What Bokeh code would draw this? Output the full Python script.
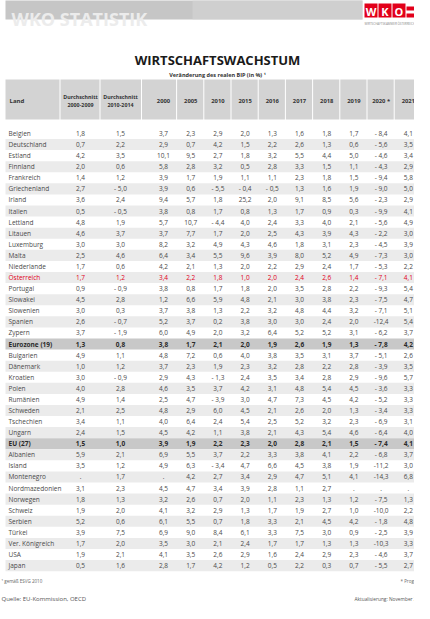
from bokeh.plotting import figure
from bokeh.models import ColumnDataSource, Range1d
from bokeh.embed import file_html
from bokeh.resources import INLINE
from bokeh.core.properties import value

# ---------------- data ----------------
countries = ["Belgien", "Deutschland", "Estland", "Finnland", "Frankreich", "Griechenland",
             "Irland", "Italien", "Lettland", "Litauen", "Luxemburg", "Malta", "Niederlande",
             "Österreich", "Portugal", "Slowakei", "Slowenien", "Spanien", "Zypern",
             "Eurozone (19)", "Bulgarien", "Dänemark", "Kroatien", "Polen", "Rumänien",
             "Schweden", "Tschechien", "Ungarn", "EU (27)", "Albanien", "Island",
             "Montenegro", "Nordmazedonien", "Norwegen", "Schweiz", "Serbien", "Türkei",
             "Ver. Königreich", "USA", "Japan"]

avg_2000_2009 = [1.8, 0.7, 4.2, 2.0, 1.4, 2.7, 3.6, 0.5, 4.8, 4.6, 3.0, 2.5, 1.7, 1.7, 0.9, 4.5, 3.0, 2.6, 3.7,
                 1.3, 4.9, 1.0, 3.0, 4.0, 4.9, 2.1, 3.4, 2.4, 1.5, 5.9, 3.5, None, 3.1, 1.8, 1.9, 5.2, 3.9, 1.7, 1.9, 0.5]
avg_2010_2014 = [1.5, 2.2, 3.5, 0.6, 1.2, -5.0, 2.4, -0.5, 1.9, 3.7, 3.0, 4.6, 0.6, 1.2, -0.9, 2.8, 0.3, -0.7, -1.9,
                 0.8, 1.1, 1.2, -0.9, 2.8, 1.4, 2.5, 1.1, 1.5, 1.0, 2.1, 1.2, 1.7, 2.3, 1.3, 2.0, 0.6, 7.5, 2.0, 2.1, 1.6]
y2000 = [3.7, 2.9, 10.1, 5.8, 3.9, 3.9, 9.4, 3.8, 5.7, 3.7, 8.2, 6.4, 4.2, 3.4, 3.8, 1.2, 3.7, 5.2, 6.0,
         3.8, 4.8, 3.7, 2.9, 4.6, 2.5, 4.8, 4.0, 4.5, 3.9, 6.9, 4.9, None, 4.5, 3.2, 4.1, 6.1, 6.9, 3.5, 4.1, 2.8]
y2005 = [2.3, 0.7, 9.5, 2.8, 1.7, 0.6, 5.7, 0.8, 10.7, 7.7, 3.2, 3.4, 2.1, 2.2, 0.8, 6.6, 3.8, 3.7, 4.9,
         1.7, 7.2, 2.3, 4.3, 3.5, 4.7, 2.9, 6.4, 4.2, 1.9, 5.5, 6.3, 4.2, 4.7, 2.6, 3.2, 5.5, 9.0, 3.0, 3.5, 1.7]
y2010 = [2.9, 4.2, 2.7, 3.2, 1.9, -5.5, 1.8, 1.7, -4.4, 1.7, 4.9, 5.5, 1.3, 1.8, 1.7, 5.9, 1.3, 0.2, 2.0,
         2.1, 0.6, 1.9, -1.3, 3.7, -3.9, 6.0, 2.4, 1.1, 2.2, 3.7, -3.4, 2.7, 3.4, 0.7, 2.9, 0.7, 8.4, 2.1, 2.6, 4.2]
y2015 = [2.0, 1.5, 1.8, 0.5, 1.1, -0.4, 25.2, 0.8, 4.0, 2.0, 4.3, 9.6, 2.0, 1.0, 1.8, 4.8, 2.2, 3.8, 3.2,
         2.0, 4.0, 2.3, 2.4, 4.2, 3.0, 4.5, 5.4, 3.8, 2.3, 2.2, 4.7, 3.4, 3.9, 2.0, 1.3, 1.8, 6.1, 2.4, 2.9, 1.2]
y2016 = [1.3, 2.2, 3.2, 2.8, 1.1, -0.5, 2.0, 1.3, 2.4, 2.5, 4.6, 3.9, 2.2, 2.0, 2.0, 2.1, 3.2, 3.0, 6.4,
         1.9, 3.8, 3.2, 3.5, 3.1, 4.7, 2.1, 2.5, 2.1, 2.0, 3.3, 6.6, 2.9, 2.8, 1.1, 1.7, 3.3, 3.3, 1.7, 1.6, 0.5]
y2017 = [1.6, 2.6, 5.5, 3.3, 2.3, 1.3, 9.1, 1.7, 3.3, 4.3, 1.8, 8.0, 2.9, 2.4, 3.5, 3.0, 4.8, 3.0, 5.2,
         2.6, 3.5, 2.8, 3.4, 4.8, 7.3, 2.6, 5.2, 4.3, 2.8, 3.8, 4.5, 4.7, 1.1, 2.3, 1.9, 2.1, 7.5, 1.7, 2.4, 2.2]
y2018 = [1.8, 1.3, 4.4, 1.5, 1.8, 1.6, 8.5, 0.9, 4.0, 3.9, 3.1, 5.2, 2.4, 2.6, 2.8, 3.8, 4.4, 2.4, 5.2,
         1.9, 3.1, 2.2, 2.8, 5.4, 4.5, 2.0, 3.2, 5.4, 2.1, 4.1, 3.8, 5.1, 2.7, 1.3, 2.7, 4.5, 3.0, 1.3, 2.9, 0.3]
y2019 = [1.7, 0.6, 5.0, 1.1, 1.5, 1.9, 5.6, 0.3, 2.1, 4.3, 2.3, 4.9, 1.7, 1.4, 2.2, 2.3, 3.2, 2.0, 3.1,
         1.3, 3.7, 2.8, 2.9, 4.5, 4.2, 1.3, 2.3, 4.6, 1.5, 2.2, 1.9, 4.1, None, 1.2, 1.0, 4.2, 0.9, 1.3, 2.3, 0.7]
y2020 = [-8.4, -5.6, -4.6, -4.3, -9.4, -9.0, -2.3, -9.9, -5.6, -2.2, -4.5, -7.3, -5.3, -7.1, -9.3, -7.5, -7.1, -12.4, -6.2,
         -7.8, -5.1, -3.9, -9.6, -3.6, -5.2, -3.4, -6.9, -6.4, -7.4, -6.8, -11.2, -14.3, None, -7.5, -10.0, -1.8, -2.5, -10.3, -4.6, -5.5]
y2021 = [4.1, 3.5, 3.4, 2.9, 5.8, 5.0, 2.9, 4.1, 4.9, 3.0, 3.9, 3.0, 2.2, 4.1, 5.4, 4.7, 5.1, 5.4, 3.7,
         4.2, 2.6, 3.5, 5.7, 3.3, 3.3, 3.3, 3.1, 4.0, 4.1, 3.7, 3.0, 6.8, None, 1.3, 2.2, 4.8, 3.9, 3.3, 3.7, 2.7]

series = [avg_2000_2009, avg_2010_2014, y2000, y2005, y2010, y2015, y2016,
          y2017, y2018, y2019, y2020, y2021]
year_labels = ["2000", "2005", "2010", "2015", "2016", "2017", "2018", "2019", "2020 *", "2021"]
avg_labels = [("Durchschnitt", "2000-2009"), ("Durchschnitt", "2010-2014")]
aggregate_rows = ["Eurozone (19)", "EU (27)"]
highlight_row = "Österreich"

title = "WIRTSCHAFTSWACHSTUM"
subtitle = "Veränderung des realen BIP (in %) \u00b9"
footnote = "\u00b9 gemäß ESVG 2010"
forecast_note = "* Prognose"
source_note = "Quelle: EU-Kommission, OECD"
update_note = "Aktualisierung: November 2020"

# ---------------- layout ----------------
FONT = value("Open Sans")
col_x = [88, 128] + [171 + 27.2 * i for i in range(10)]
row_y0, row_h = 141.0, 11.08
bounds = [13, 68] + [(col_x[i] + col_x[i + 1]) / 2 for i in range(len(col_x) - 1)] + [440]

p = figure(width=414, height=603, x_range=Range1d(8, 422), y_range=Range1d(611, 8),
           output_backend="svg", toolbar_location=None, min_border=0)
p.axis.visible = False
p.grid.visible = False
p.outline_line_color = None
p.background_fill_color = "white"
p.border_fill_color = "white"

# banner
p.quad(left=[13], right=[370], top=[7], bottom=[27], fill_color="#c6c6c6", line_color=None)
p.quad(left=[200], right=[370], top=[7], bottom=[27], fill_color="#d6d6d6", line_color=None, fill_alpha=0.6)
p.text(x=[19], y=[26], text=["WKO STATISTIK"], text_font=FONT, text_font_style="bold",
       text_font_size="18px", text_color="#ececec", text_align="left", text_baseline="alphabetic")
# logo
logo_letters = ["W", "K", "O"]
lx = [372 + 14 * i for i in range(3)]
p.quad(left=lx, right=[v + 13 for v in lx], top=[11] * 3, bottom=[25] * 3, fill_color="#e2001a", line_color=None)
p.text(x=[v + 6.5 for v in lx], y=[18.5] * 3, text=logo_letters, text_font=FONT, text_font_style="bold",
       text_font_size="11px", text_color="white", text_align="center", text_baseline="middle")
p.quad(left=[414], right=[430], top=[14], bottom=[18], fill_color="#e2001a", line_color=None)
p.quad(left=[414], right=[430], top=[21], bottom=[25], fill_color="#e2001a", line_color=None)
p.text(x=[372], y=[31], text=["WIRTSCHAFTSKAMMER ÖSTERREICH"], text_font=FONT, text_font_size="3px",
       text_color="#888888", text_align="left", text_baseline="middle")

# titles
p.text(x=[225], y=[67], text=[title], text_font=FONT, text_font_style="bold", text_font_size="13px",
       text_color="#1a1a1a", text_align="center", text_baseline="middle")
p.text(x=[225], y=[82], text=[subtitle], text_font=FONT, text_font_style="bold", text_font_size="5.5px",
       text_color="#333333", text_align="center", text_baseline="middle")

# header
p.quad(left=bounds[:-1], right=[b - 1 for b in bounds[1:]], top=[87] * (len(bounds) - 1),
       bottom=[127] * (len(bounds) - 1), fill_color="#d3d3d3", line_color=None)
p.text(x=[17], y=[108], text=["Land"], text_font=FONT, text_font_style="bold", text_font_size="6px",
       text_color="#333333", text_align="left", text_baseline="middle")
for i, (a, b) in enumerate(avg_labels):
    p.text(x=[col_x[i]] * 2, y=[104, 112], text=[a, b], text_font=FONT, text_font_style="bold",
           text_font_size="5.3px", text_color="#333333", text_align="center", text_baseline="middle")
p.text(x=col_x[2:], y=[108] * 10, text=year_labels, text_font=FONT, text_font_style="bold",
       text_font_size="5.8px", text_color="#333333", text_align="center", text_baseline="middle")


def fmt(v):
    if v is None:
        return "."
    s = f"{abs(v):.1f}".replace(".", ",")
    if v < 0:
        return ("- " if abs(v) < 10 else "-") + s
    return s


# rows
band_top, band_bot, band_col = [], [], []
for i, c in enumerate(countries):
    yc = row_y0 + row_h * i
    if c in aggregate_rows:
        col = "#c8c8c8"
    elif i % 2 == 1:
        col = "#ebebeb"
    else:
        continue
    band_top.append(yc - row_h / 2)
    band_bot.append(yc + row_h / 2)
    band_col.append(col)
p.quad(left=[13] * len(band_top), right=[440] * len(band_top), top=band_top, bottom=band_bot,
       fill_color=band_col, line_color=None)

for style in ("normal", "bold"):
    xs, ys, ts, cs = [], [], [], []
    nx, ny, nt, nc = [], [], [], []
    for i, c in enumerate(countries):
        bold = c in aggregate_rows
        if (style == "bold") != bold:
            continue
        yc = row_y0 + row_h * i
        color = "#e2001a" if c == highlight_row else ("#2a2a2a" if bold else "#4a4a4a")
        nx.append(16); ny.append(yc); nt.append(c); nc.append(color)
        for j, s in enumerate(series):
            xs.append(col_x[j]); ys.append(yc); ts.append(fmt(s[i])); cs.append(color)
    size = "6.5px"
    p.text(x="x", y="y", text="t", text_color="c",
           source=ColumnDataSource(dict(x=nx, y=ny, t=nt, c=nc)), text_font=FONT,
           text_font_style=style, text_font_size=size, text_align="left", text_baseline="middle")
    p.text(x="x", y="y", text="t", text_color="c",
           source=ColumnDataSource(dict(x=xs, y=ys, t=ts, c=cs)), text_font=FONT,
           text_font_style=style, text_font_size=size, text_align="center", text_baseline="middle")

# footer
p.text(x=[9], y=[588], text=[footnote], text_font=FONT, text_font_size="4.5px", text_color="#666666",
       text_align="left", text_baseline="middle")
p.text(x=[408], y=[588], text=[forecast_note], text_font=FONT, text_font_size="4.5px", text_color="#666666",
       text_align="left", text_baseline="middle")
p.text(x=[9], y=[606], text=[source_note], text_font=FONT, text_font_size="6px", text_color="#555555",
       text_align="left", text_baseline="middle")
p.text(x=[362], y=[606], text=[update_note], text_font=FONT, text_font_size="4.8px", text_color="#555555",
       text_align="left", text_baseline="middle")

open("out.html", "w").write(file_html(p, INLINE))
